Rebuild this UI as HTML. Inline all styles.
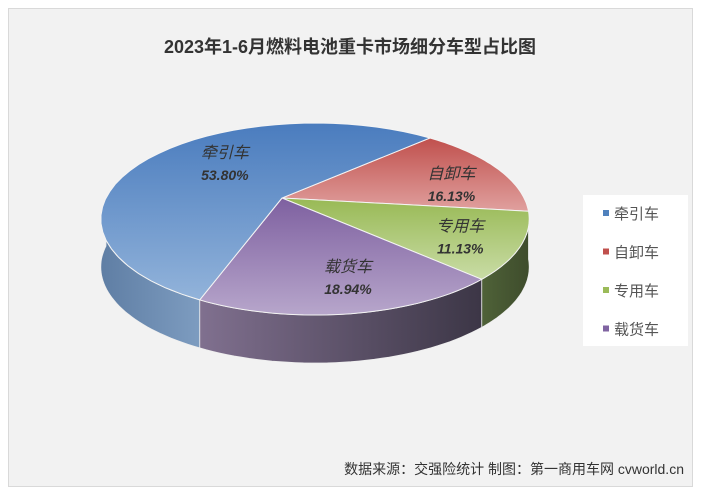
<!DOCTYPE html>
<html><head><meta charset="utf-8"><style>
body{margin:0;width:701px;height:495px;background:#fff;overflow:hidden;font-family:"Liberation Sans","Noto Sans CJK SC",sans-serif}
#panel{position:absolute;left:8px;top:8px;width:683px;height:477px;background:#f2f2f2;border:1px solid #d9d9d9}
</style></head><body>
<div id="panel"></div>
<svg width="701" height="495" style="position:absolute;left:0;top:0">
<defs>
<linearGradient id="g0" x1="0" y1="0" x2="0" y2="1"><stop offset="0" stop-color="#4a7cbe"/><stop offset="1" stop-color="#92b3da"/></linearGradient>
<linearGradient id="g1" x1="0" y1="0" x2="0" y2="1"><stop offset="0" stop-color="#c0504d"/><stop offset="1" stop-color="#e0a09e"/></linearGradient>
<linearGradient id="g2" x1="0" y1="0" x2="0" y2="1"><stop offset="0" stop-color="#98b954"/><stop offset="1" stop-color="#c9dca6"/></linearGradient>
<linearGradient id="g3" x1="0" y1="0" x2="0" y2="1"><stop offset="0" stop-color="#7e60a0"/><stop offset="1" stop-color="#b7a6cb"/></linearGradient>
<linearGradient id="s0" x1="0" y1="0" x2="1" y2="0"><stop offset="0" stop-color="#5f7ea4"/><stop offset="1" stop-color="#7d9cc0"/></linearGradient>
<linearGradient id="s1" x1="0" y1="0" x2="1" y2="0"><stop offset="0" stop-color="#8a3a38"/><stop offset="1" stop-color="#6a2c2a"/></linearGradient>
<linearGradient id="s2" x1="0" y1="0" x2="1" y2="0"><stop offset="0" stop-color="#4f6238"/><stop offset="1" stop-color="#3e4c2c"/></linearGradient>
<linearGradient id="s3" x1="0" y1="0" x2="1" y2="0"><stop offset="0" stop-color="#80708f"/><stop offset="1" stop-color="#3c3646"/></linearGradient>
</defs>
<text x="350" y="53" text-anchor="middle" font-size="18" font-weight="bold" fill="#333">2023年1-6月燃料电池重卡市场细分车型占比图</text>
<g id="pie"></g>
<rect x="583" y="195" width="105" height="151" fill="#fff"/>
<g id="legend"></g>
<text x="684" y="474" text-anchor="end" font-size="14" fill="#333">数据来源：交强险统计  制图：第一商用车网 cvworld.cn</text>
</svg>
<script>
const categories=["牵引车","自卸车","专用车","载货车"];
const values=[53.80,16.13,11.13,18.94];
const labels=["53.80%","16.13%","11.13%","18.94%"];
const order=[1,2,3,0];
const cx=315,cy=198,rx=209,ry=91.4,pp=0.219,depth=48,startDeg=-50,apexShift=-33;
const ns="http://www.w3.org/2000/svg";
const pie=document.getElementById('pie');
const total=values.reduce((a,b)=>a+b,0);
function pt(a,dy,r){r=r===undefined?1:r;const f=1/(1-pp*Math.sin(a)*r);return [cx+apexShift*(1-r)+rx*r*Math.cos(a)*f,cy+ry*r*Math.sin(a)*f+(dy||0)];}
function arc(a1,a2,dy){let d='';const n=40;for(let i=0;i<=n;i++){const a=a1+(a2-a1)*i/n;const p=pt(a,dy);d+=(i?'L':'')+p[0].toFixed(1)+','+p[1].toFixed(1);}return d;}
let ang=startDeg*Math.PI/180;const slices=[];
order.forEach(i=>{const sw=values[i]/total*2*Math.PI;slices.push({i,a1:ang,a2:ang+sw});ang+=sw;});
slices.forEach(s=>{
  [0,2*Math.PI].forEach(off=>{
    const lo=Math.max(s.a1-off,0),hi=Math.min(s.a2-off,Math.PI);
    if(hi>lo){const p=document.createElementNS(ns,'path');
      const a=arc(lo,hi,0),b='L'+arc(hi,lo,depth);
      p.setAttribute('d','M'+a+b+'Z');p.setAttribute('fill','url(#s'+s.i+')');p.setAttribute('stroke','#eee');p.setAttribute('stroke-width','0.8');
      
      
      pie.appendChild(p);}
  });
});
const apex=pt(0,0,0);
slices.forEach(s=>{
  const p=document.createElementNS(ns,'path');
  p.setAttribute('d','M'+apex[0]+','+apex[1]+'L'+arc(s.a1,s.a2,0)+'Z');
  p.setAttribute('fill','url(#g'+s.i+')');p.setAttribute('stroke','#f4f4f4');p.setAttribute('stroke-width','1');
  
  
  pie.appendChild(p);
  const m=(s.a1+s.a2)/2;const f=s.i===0?0.6:0.68;
  const q=pt(m,0,f);const x=q[0]+21,y=q[1]+(s.i===0?-8:6);
  const t1=document.createElementNS(ns,'text');
  t1.setAttribute('x',x);t1.setAttribute('y',y-4);t1.setAttribute('text-anchor','middle');t1.setAttribute('font-size','16');t1.setAttribute('font-style','italic');t1.setAttribute('fill','#333');
  t1.textContent=categories[s.i];
  
  
  pie.appendChild(t1);
  const t2=document.createElementNS(ns,'text');
  t2.setAttribute('x',x);t2.setAttribute('y',y+18);t2.setAttribute('text-anchor','middle');t2.setAttribute('font-size','14');t2.setAttribute('font-style','italic');t2.setAttribute('font-weight','bold');t2.setAttribute('fill','#333');
  t2.textContent=labels[s.i];
  
  
  pie.appendChild(t2);
});
const cols=["#4f81bd","#c0504d","#9bbb59","#8064a2"];
const lg=document.getElementById('legend');
categories.forEach((c,i)=>{
  const y=213+i*38.5;
  const r=document.createElementNS(ns,'rect');r.setAttribute('x',603);r.setAttribute('y',y-3);r.setAttribute('width',6);r.setAttribute('height',6);r.setAttribute('fill',cols[i]);
  
  
  lg.appendChild(r);
  const t=document.createElementNS(ns,'text');t.setAttribute('x',614);t.setAttribute('y',y+6);t.setAttribute('font-size','15');t.setAttribute('fill','#555');t.textContent=c;
  
  
  lg.appendChild(t);
});
</script>
</body></html>
